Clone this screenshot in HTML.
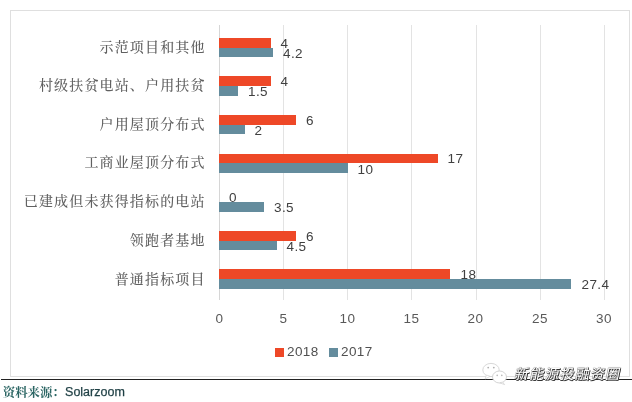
<!DOCTYPE html>
<html><head><meta charset="utf-8">
<style>
html,body{margin:0;padding:0;background:#fff;}
body{width:632px;height:402px;position:relative;overflow:hidden;font-family:"Liberation Sans","Noto Sans CJK SC",sans-serif;}
.abs{position:absolute;}
#frame{left:9.5px;top:9.5px;width:620.8px;height:367.3px;border:1px solid #dfdfdf;box-sizing:border-box;}
.grid{position:absolute;top:25px;width:1px;height:274.5px;background:#e3e3e3;}
.bar{position:absolute;height:9.65px;left:219.2px;}
.bar.r{height:9.95px;margin-top:-0.3px;}
.r{background:#ee4827;}
.b{background:#648c9d;}
.cat{position:absolute;right:426.4px;letter-spacing:1.15px;font-weight:500;width:260px;text-align:right;font-family:"Liberation Serif","Noto Serif CJK SC",serif;font-size:14px;color:#606060;line-height:20px;height:20px;white-space:nowrap;}
.dl{position:absolute;letter-spacing:0.4px;font-size:13.5px;color:#404040;line-height:12px;height:12px;white-space:nowrap;}
.ax{position:absolute;top:312px;width:40px;margin-left:-20px;text-align:center;letter-spacing:0.4px;font-size:13.5px;color:#595959;line-height:14px;}
.lg{position:absolute;letter-spacing:0.4px;font-size:13.5px;color:#505050;line-height:14px;top:345.2px;}
.sq{position:absolute;width:9.4px;height:9.4px;top:347.7px;}
#rule{left:1px;top:378.6px;width:631px;height:1.6px;background:#222;}
#src{left:2px;top:382.3px;height:18px;line-height:18px;white-space:nowrap;color:#2b5f62;}
#src .cn{font-family:"Liberation Serif","Noto Serif CJK SC",serif;font-size:12.4px;font-weight:700;letter-spacing:0px;position:relative;top:1.1px;left:0.8px;color:#2c6664;}
#src .en{font-family:"Liberation Sans",sans-serif;font-size:12.5px;color:#1e3f44;margin-left:1.1px;-webkit-text-stroke:0.25px #1e3f44;}
#wm{left:512.5px;top:363.6px;font-family:"Liberation Sans","Noto Sans CJK SC",sans-serif;font-weight:400;transform:skewX(-12deg);transform-origin:0 100%;font-size:14px;letter-spacing:1.15px;line-height:20px;color:#fff;white-space:nowrap;text-shadow:1px 1px 0 #333,0 0 1px #777,1px 0 0 #777,0 1px 0 #666,-0.5px -0.5px 0 #aaa;}
</style></head><body>
<div id="frame" class="abs"></div>
<!-- gridlines -->
<div class="grid" style="left:218.7px;background:#d6d6d6"></div>
<div class="grid" style="left:282.9px"></div>
<div class="grid" style="left:347.2px"></div>
<div class="grid" style="left:411.4px"></div>
<div class="grid" style="left:475.7px"></div>
<div class="grid" style="left:540.0px"></div>
<div class="grid" style="left:604.2px"></div>

<!-- bars -->
<div class="bar r" style="top:38.00px;width:51.4px"></div><div class="bar b" style="top:47.65px;width:54.0px"></div>
<div class="bar r" style="top:76.60px;width:51.4px"></div><div class="bar b" style="top:86.25px;width:19.3px"></div>
<div class="bar r" style="top:115.20px;width:77.1px"></div><div class="bar b" style="top:124.85px;width:25.7px"></div>
<div class="bar r" style="top:153.80px;width:218.4px"></div><div class="bar b" style="top:163.45px;width:128.5px"></div>
<div class="bar b" style="top:202.05px;width:45.0px"></div>
<div class="bar r" style="top:231.00px;width:77.1px"></div><div class="bar b" style="top:240.65px;width:57.8px"></div>
<div class="bar r" style="top:269.60px;width:231.3px"></div><div class="bar b" style="top:279.25px;width:352.1px"></div>

<!-- category labels -->
<div class="cat" style="top:38px">示范项目和其他</div>
<div class="cat" style="top:75.8px">村级扶贫电站、户用扶贫</div>
<div class="cat" style="top:114.7px">户用屋顶分布式</div>
<div class="cat" style="top:153.3px">工商业屋顶分布式</div>
<div class="cat" style="top:191.6px">已建成但未获得指标的电站</div>
<div class="cat" style="top:230.8px">领跑者基地</div>
<div class="cat" style="top:269.8px">普通指标项目</div>

<!-- data labels -->
<div class="dl" style="left:280.5px;top:37.7px">4</div><div class="dl" style="left:283px;top:48px">4.2</div>
<div class="dl" style="left:280.5px;top:75.5px">4</div><div class="dl" style="left:248px;top:86px">1.5</div>
<div class="dl" style="left:306px;top:115px">6</div><div class="dl" style="left:254.5px;top:125px">2</div>
<div class="dl" style="left:447.5px;top:152.5px">17</div><div class="dl" style="left:357.5px;top:163.5px">10</div>
<div class="dl" style="left:229px;top:192px">0</div><div class="dl" style="left:274px;top:201.8px">3.5</div>
<div class="dl" style="left:306px;top:230.8px">6</div><div class="dl" style="left:286.5px;top:241px">4.5</div>
<div class="dl" style="left:460.5px;top:269.2px">18</div><div class="dl" style="left:581.5px;top:279px">27.4</div>

<!-- axis labels -->
<div class="ax" style="left:219.5px">0</div>
<div class="ax" style="left:283.5px">5</div>
<div class="ax" style="left:347.5px">10</div>
<div class="ax" style="left:411.5px">15</div>
<div class="ax" style="left:475.5px">20</div>
<div class="ax" style="left:540px">25</div>
<div class="ax" style="left:604px">30</div>

<!-- legend -->
<div class="sq r" style="left:274.8px"></div><div class="lg" style="left:287px">2018</div>
<div class="sq b" style="left:328.9px"></div><div class="lg" style="left:341px">2017</div>

<div id="rule" class="abs"></div>
<div id="src" class="abs"><span class="cn">资料来源：</span><span class="en">Solarzoom</span></div>

<!-- watermark -->
<svg class="abs" style="left:480px;top:360px" width="30" height="26" viewBox="0 0 30 26">
  <ellipse cx="11" cy="10" rx="8.2" ry="6.6" fill="#fff" stroke="#d4d4d4" stroke-width="0.9"/>
  <path d="M6.5 15 L5 19 L10 16.4 Z" fill="#fff" stroke="#d4d4d4" stroke-width="0.7"/>
  <ellipse cx="19.5" cy="17" rx="7" ry="6" fill="#fff" stroke="#cfcfcf" stroke-width="0.9"/>
  <path d="M22.5 22 L24.6 24.6 L19.8 22.9 Z" fill="#fff" stroke="#cfcfcf" stroke-width="0.7"/>
  <circle cx="8.2" cy="7.6" r="0.9" fill="#b0b0b0"/><circle cx="13.8" cy="7.6" r="0.9" fill="#b0b0b0"/>
  <circle cx="17.2" cy="15.4" r="0.8" fill="#b8b8b8"/><circle cx="21.8" cy="15.4" r="0.8" fill="#b8b8b8"/>
</svg>
<div id="wm" class="abs">新能源投融资圈</div>
</body></html>
